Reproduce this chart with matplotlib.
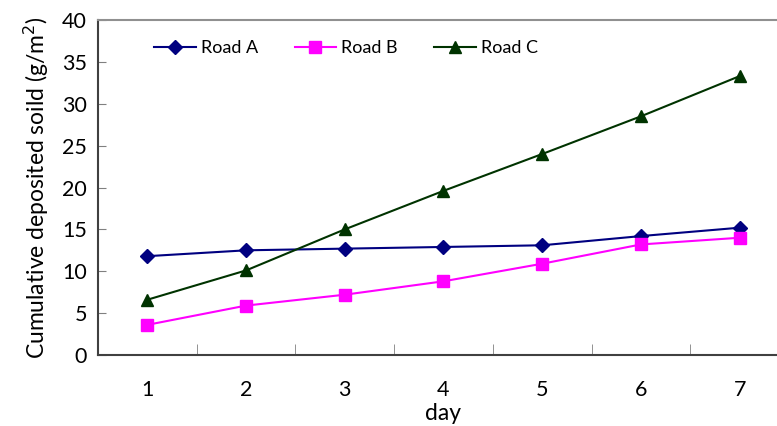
import numpy as np
import matplotlib.pyplot as plt

days = [1, 2, 3, 4, 5, 6, 7]
road_a = [11.8, 12.5, 12.7, 12.9, 13.1, 14.2, 15.2]
road_b = [3.6, 5.9, 7.2, 8.8, 10.9, 13.2, 14.0]
road_c = [6.6, 10.1, 15.0, 19.6, 24.0, 28.5, 33.3]

plt.rcParams['font.family'] = ['Lato', 'DejaVu Sans']

fig = plt.figure(figsize=(7.77, 4.26), dpi=100)
ax = fig.add_axes([98 / 777, 71 / 426, 691 / 777, 335 / 426])

ax.plot(days, road_a, color='#000080', marker='D', markersize=7, lw=1.5, label='Road A')
ax.plot(days, road_b, color='#FF00FF', marker='s', markersize=8.5, lw=1.5, label='Road B')
ax.plot(days, road_c, color='#003300', marker='^', markersize=9, lw=1.5, label='Road C')

ax.set_xlim(0.5, 7.5)
ax.set_ylim(0, 40)
ax.set_xticks(days)
ax.set_xticks(np.arange(1.5, 7.5, 1), minor=True)
ax.set_yticks(np.arange(0, 41, 5))
ax.tick_params(axis='x', which='major', length=0, pad=18, labelsize=15.5)
ax.tick_params(axis='x', which='minor', direction='in', length=8, color='#808080')
ax.tick_params(axis='y', direction='in', length=6, color='#808080', pad=8, labelsize=15.5)

ax.spines['left'].set_color('#404040')
ax.spines['bottom'].set_color('#404040')
ax.spines['top'].set_color('#909090')
ax.spines['right'].set_visible(False)
for s in ['left', 'bottom', 'top']:
    ax.spines[s].set_linewidth(1.5)

ax.set_xlabel('day', fontsize=16.5, labelpad=2)
ax.set_ylabel('Cumulative deposited soild (g/m$^2$)', fontsize=16.5, labelpad=8)

ax.legend(loc='center left', bbox_to_anchor=(0.058, 0.916), ncol=3, frameon=False,
          fontsize=13, handlelength=2.3, columnspacing=2.0, handletextpad=0.3)

fig.savefig('out.png', dpi=100)
